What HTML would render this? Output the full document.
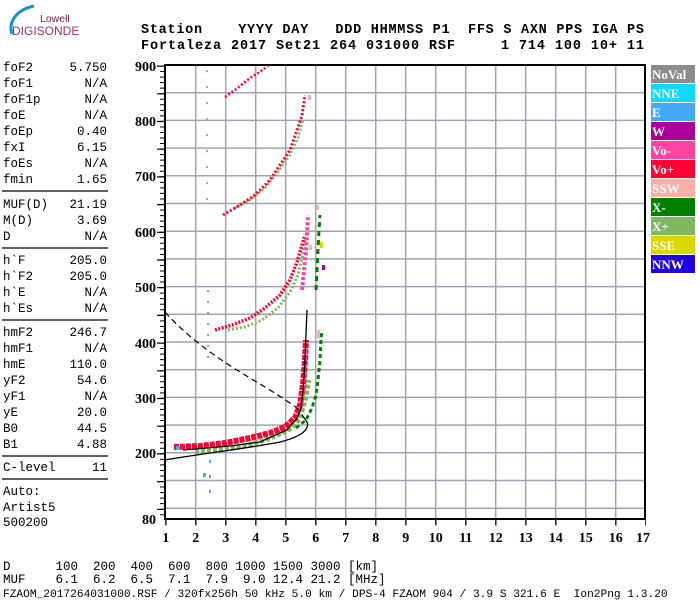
<!DOCTYPE html>
<html><head><meta charset="utf-8"><style>
body{margin:0;width:700px;height:600px;background:#fff;overflow:hidden;position:relative}
svg{position:absolute;left:0;top:0}
.m{font-family:"Liberation Mono",monospace;font-size:12.5px;fill:#000}
.h{font-family:"Liberation Mono",monospace;font-size:13.5px;font-weight:bold;fill:#000}
.ax{font-family:"Liberation Serif",serif;font-size:14px;font-weight:bold;fill:#000}
.lg{font-family:"Liberation Serif",serif;font-size:13px;font-weight:bold;fill:#fff}
</style></head><body>
<svg width="700" height="600" viewBox="0 0 700 600">
<!-- logo -->
<path d="M12,34 C8,22 16,10 34,6" stroke="#1a8fd0" stroke-width="3" fill="none"/>
<text x="40" y="22" font-family="Liberation Sans,sans-serif" font-size="10.5" fill="#7a2040">Lowell</text>
<text x="12" y="35" font-family="Liberation Sans,sans-serif" font-size="12" fill="#a0306a">DIGISONDE</text>
<!-- header -->
<text class="h" x="141" y="33" xml:space="preserve" textLength="503" lengthAdjust="spacing">Station    YYYY DAY   DDD HHMMSS P1  FFS S AXN PPS IGA PS</text>
<text class="h" x="141" y="49" xml:space="preserve" textLength="503" lengthAdjust="spacing">Fortaleza 2017 Set21 264 031000 RSF     1 714 100 10+ 11</text>
<!-- left panel -->
<g class="m">
<text x="3" y="71">foF2</text><text x="107" y="71" text-anchor="end">5.750</text>
<text x="3" y="87">foF1</text><text x="107" y="87" text-anchor="end">N/A</text>
<text x="3" y="103">foF1p</text><text x="107" y="103" text-anchor="end">N/A</text>
<text x="3" y="119">foE</text><text x="107" y="119" text-anchor="end">N/A</text>
<text x="3" y="135">foEp</text><text x="107" y="135" text-anchor="end">0.40</text>
<text x="3" y="151">fxI</text><text x="107" y="151" text-anchor="end">6.15</text>
<text x="3" y="167">foEs</text><text x="107" y="167" text-anchor="end">N/A</text>
<text x="3" y="183">fmin</text><text x="107" y="183" text-anchor="end">1.65</text>
<text x="3" y="208">MUF(D)</text><text x="107" y="208" text-anchor="end">21.19</text>
<text x="3" y="224">M(D)</text><text x="107" y="224" text-anchor="end">3.69</text>
<text x="3" y="240">D</text><text x="107" y="240" text-anchor="end">N/A</text>
<text x="3" y="264">h`F</text><text x="107" y="264" text-anchor="end">205.0</text>
<text x="3" y="280">h`F2</text><text x="107" y="280" text-anchor="end">205.0</text>
<text x="3" y="296">h`E</text><text x="107" y="296" text-anchor="end">N/A</text>
<text x="3" y="312">h`Es</text><text x="107" y="312" text-anchor="end">N/A</text>
<text x="3" y="336">hmF2</text><text x="107" y="336" text-anchor="end">246.7</text>
<text x="3" y="352">hmF1</text><text x="107" y="352" text-anchor="end">N/A</text>
<text x="3" y="368">hmE</text><text x="107" y="368" text-anchor="end">110.0</text>
<text x="3" y="384">yF2</text><text x="107" y="384" text-anchor="end">54.6</text>
<text x="3" y="400">yF1</text><text x="107" y="400" text-anchor="end">N/A</text>
<text x="3" y="416">yE</text><text x="107" y="416" text-anchor="end">20.0</text>
<text x="3" y="432">B0</text><text x="107" y="432" text-anchor="end">44.5</text>
<text x="3" y="448">B1</text><text x="107" y="448" text-anchor="end">4.88</text>
<text x="3" y="471">C-level</text><text x="107" y="471" text-anchor="end">11</text>
<text x="3" y="495">Auto:</text>
<text x="3" y="511">Artist5</text>
<text x="3" y="526">500200</text>
</g>
<g stroke="#000" stroke-width="1.3">
<line x1="2" y1="191" x2="108" y2="191"/><line x1="2" y1="248" x2="108" y2="248"/>
<line x1="2" y1="320" x2="108" y2="320"/><line x1="2" y1="456" x2="108" y2="456"/>
<line x1="2" y1="479" x2="108" y2="479"/>
</g>
<!-- grid -->
<g stroke="#a2a2b2" stroke-width="1.5">
<line x1="195.7" y1="65" x2="195.7" y2="519"/><line x1="225.7" y1="65" x2="225.7" y2="519"/>
<line x1="255.7" y1="65" x2="255.7" y2="519"/><line x1="285.7" y1="65" x2="285.7" y2="519"/>
<line x1="315.7" y1="65" x2="315.7" y2="519"/><line x1="345.7" y1="65" x2="345.7" y2="519"/>
<line x1="375.7" y1="65" x2="375.7" y2="519"/><line x1="405.7" y1="65" x2="405.7" y2="519"/>
<line x1="435.7" y1="65" x2="435.7" y2="519"/><line x1="465.7" y1="65" x2="465.7" y2="519"/>
<line x1="495.7" y1="65" x2="495.7" y2="519"/><line x1="525.7" y1="65" x2="525.7" y2="519"/>
<line x1="555.7" y1="65" x2="555.7" y2="519"/><line x1="585.7" y1="65" x2="585.7" y2="519"/>
<line x1="615.7" y1="65" x2="615.7" y2="519"/>
<line x1="165" y1="92.7" x2="645" y2="92.7"/><line x1="165" y1="120.4" x2="645" y2="120.4"/>
<line x1="165" y1="148.1" x2="645" y2="148.1"/><line x1="165" y1="175.8" x2="645" y2="175.8"/>
<line x1="165" y1="203.5" x2="645" y2="203.5"/><line x1="165" y1="231.2" x2="645" y2="231.2"/>
<line x1="165" y1="258.9" x2="645" y2="258.9"/><line x1="165" y1="286.6" x2="645" y2="286.6"/>
<line x1="165" y1="314.3" x2="645" y2="314.3"/><line x1="165" y1="342" x2="645" y2="342"/>
<line x1="165" y1="369.7" x2="645" y2="369.7"/><line x1="165" y1="397.4" x2="645" y2="397.4"/>
<line x1="165" y1="425.1" x2="645" y2="425.1"/><line x1="165" y1="452.8" x2="645" y2="452.8"/>
<line x1="165" y1="480.5" x2="645" y2="480.5"/><line x1="165" y1="508.2" x2="645" y2="508.2"/>
</g>
<!-- frame -->
<g stroke="#000" stroke-width="2" fill="none">
<path d="M165,65 H645 V519"/>
<line x1="165" y1="64" x2="165" y2="520"/><line x1="164" y1="519" x2="646" y2="519"/>
</g>
<!-- ticks -->
<line x1="162.5" y1="65.5" x2="162.5" y2="519" stroke="#000" stroke-width="5" stroke-dasharray="1 4.54"/>
<line x1="161" y1="65.5" x2="161" y2="519" stroke="#000" stroke-width="8" stroke-dasharray="1.2 26.5"/>
<line x1="165.2" y1="522.5" x2="646" y2="522.5" stroke="#000" stroke-width="6" stroke-dasharray="1.3 28.7"/>
<!-- axis labels -->
<g class="ax" text-anchor="end">
<text x="156" y="71">900</text><text x="156" y="126">800</text><text x="156" y="181">700</text>
<text x="156" y="237">600</text><text x="156" y="292">500</text><text x="156" y="348">400</text>
<text x="156" y="403">300</text><text x="156" y="458">200</text><text x="156" y="524">80</text>
</g>
<g class="ax" text-anchor="middle">
<text x="165.7" y="542">1</text><text x="195.7" y="542">2</text><text x="225.7" y="542">3</text><text x="255.7" y="542">4</text>
<text x="285.7" y="542">5</text><text x="315.7" y="542">6</text><text x="345.7" y="542">7</text><text x="375.7" y="542">8</text>
<text x="405.7" y="542">9</text><text x="435.7" y="542">10</text><text x="465.7" y="542">11</text><text x="495.7" y="542">12</text>
<text x="525.7" y="542">13</text><text x="555.7" y="542">14</text><text x="585.7" y="542">15</text><text x="615.7" y="542">16</text>
<text x="643" y="542">17</text>
</g>
<!-- legend -->
<g>
<rect x="651" y="65" width="44" height="18" fill="#8c8c8c"/><text class="lg" x="652" y="79">NoVal</text>
<rect x="651" y="84" width="44" height="18" fill="#11d8f8"/><text class="lg" x="652" y="98">NNE</text>
<rect x="651" y="103" width="44" height="18" fill="#44aaf8"/><text class="lg" x="652" y="117">E</text>
<rect x="651" y="122" width="44" height="18" fill="#aa0099"/><text class="lg" x="652" y="136">W</text>
<rect x="651" y="141" width="44" height="18" fill="#ff44a0"/><text class="lg" x="652" y="155">Vo-</text>
<rect x="651" y="160" width="44" height="18" fill="#ff0033"/><text class="lg" x="652" y="174">Vo+</text>
<rect x="651" y="179" width="44" height="18" fill="#f8b0a8"/><text class="lg" x="652" y="193">SSW</text>
<rect x="651" y="198" width="44" height="18" fill="#008000"/><text class="lg" x="652" y="212">X-</text>
<rect x="651" y="217" width="44" height="18" fill="#80b860"/><text class="lg" x="652" y="231">X+</text>
<rect x="651" y="236" width="44" height="18" fill="#d8d800"/><text class="lg" x="652" y="250">SSE</text>
<rect x="651" y="255" width="44" height="18" fill="#2200dd"/><text class="lg" x="652" y="269">NNW</text>
</g>
<!-- traces -->
<g fill="none">
<polyline points="195,452 220,450 245,446 265,440 280,434 292,428 300,418 305,400 309,380" stroke="#80b860" stroke-width="5" stroke-dasharray="4 2"/>
<polyline points="174,447 200,446 225,443 250,438 270,433 285,427 295,418 300,405 303,385 305,360 306,340" stroke="#ff0033" stroke-width="6" stroke-dasharray="5 1"/>
<polyline points="300,410 303,390 305,370 306,350" stroke="#ff44a0" stroke-width="3" stroke-dasharray="4 3"/>
<polyline points="296,428 306,420 312,408 316,395 318,380 320,360 321,340 322,330" stroke="#008000" stroke-width="3" stroke-dasharray="4 3"/>
<polyline points="316,290 317,270 318,250 319,230 320,215" stroke="#008000" stroke-width="3" stroke-dasharray="5 4"/>
<polyline points="228,330 245,327 262,320 278,308 290,292 298,275 302,258 305,240" stroke="#80b860" stroke-width="3" stroke-dasharray="2 2"/>
<polyline points="215,330 232,325 250,318 265,308 280,295 290,280 297,262 302,245 305,235" stroke="#ff0033" stroke-width="3.5" stroke-dasharray="2 1.5"/>
<polyline points="302,290 304,270 306,250 307,235 308,215" stroke="#ff44a0" stroke-width="4" stroke-dasharray="3 2"/>
<polyline points="235,208 250,200 265,188 278,172 290,155 298,138 303,120" stroke="#80b860" stroke-width="2.5" stroke-dasharray="2 2"/>
<polyline points="223,215 240,205 255,195 270,180 280,165 290,150 297,130 302,115 305,95" stroke="#ff0033" stroke-width="3" stroke-dasharray="2 2"/>
<polyline points="225,97 235,90 250,78 258,73 268,66" stroke="#ff0033" stroke-width="2.5" stroke-dasharray="2 2"/>
<line x1="207" y1="70" x2="207" y2="200" stroke="#44aaf8" stroke-width="1.5" stroke-dasharray="2 14"/>
<line x1="208" y1="290" x2="208" y2="360" stroke="#ff44a0" stroke-width="1.5" stroke-dasharray="2 9"/>
<line x1="210" y1="460" x2="210" y2="500" stroke="#44aaf8" stroke-width="2" stroke-dasharray="3 12"/>
<path d="M183,450 L230,446 L260,442 L287,430 L297,418 L301,408 L303,390 L305,360 L307,310" stroke="#000" stroke-width="1.3"/>
<path d="M165,460 C200,454 250,448 280,442 C300,437 310,430 307,422 L302,415" stroke="#000" stroke-width="1.3"/>
<path d="M165,312 C190,340 220,360 250,378 C270,390 290,402 302,412" stroke="#000" stroke-width="1.2" stroke-dasharray="6 4"/>
</g>
<g>
<rect x="308" y="95" width="3" height="5" fill="#f8b0a8"/><rect x="309" y="245" width="3" height="5" fill="#f8b0a8"/>
<rect x="320" y="242" width="3" height="6" fill="#d8d800"/><rect x="322" y="265" width="3" height="5" fill="#aa0099"/>
<rect x="316" y="205" width="3" height="5" fill="#f8b0a8"/><rect x="317" y="330" width="3" height="8" fill="#f8b0a8"/>
<rect x="176" y="446" width="4" height="4" fill="#44aaf8"/><rect x="203" y="473" width="3" height="4" fill="#44aaf8"/>
</g>
<!-- footer -->
<g class="m" font-size="12">
<text x="3" y="570" xml:space="preserve">D      100  200  400  600  800 1000 1500 3000 [km]</text>
<text x="3" y="583" xml:space="preserve">MUF    6.1  6.2  6.5  7.1  7.9  9.0 12.4 21.2 [MHz]</text>
<text x="3" y="597" xml:space="preserve" font-size="11.2">FZAOM_2017264031000.RSF / 320fx256h 50 kHz 5.0 km / DPS-4 FZAOM 904 / 3.9 S 321.6 E  Ion2Png 1.3.20</text>
</g>
</svg>
</body></html>
